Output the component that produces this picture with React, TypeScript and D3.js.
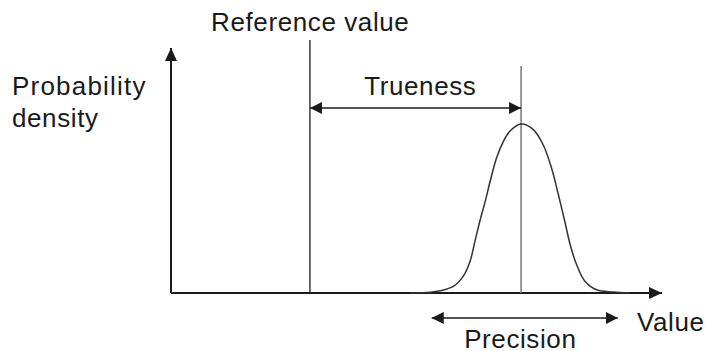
import React from "react";
import * as d3 from "d3";

// value axis runs 0..10, density axis 0..1
const curveValues = [4.87, 5.28, 5.48, 5.75, 5.95, 6.09, 6.19, 6.29, 6.4, 6.5, 6.63, 6.77, 6.9, 7.13, 7.38, 7.58, 7.75, 7.89, 8.02, 8.13, 8.26, 8.43, 8.67, 9.01, 9.35];
const curveDensity = [0, 0.003, 0.009, 0.027, 0.068, 0.129, 0.211, 0.293, 0.374, 0.456, 0.551, 0.619, 0.66, 0.69, 0.667, 0.605, 0.51, 0.401, 0.293, 0.197, 0.116, 0.048, 0.013, 0.004, 0];

const referenceValue = 2.83;
const meanValue = 7.13;
const precisionRange = [5.31, 9.1];
const truenessLevel = 0.755;
const precisionLevel = -0.102;
const referenceTop = 1.033;
const meanTop = 0.927;

const W = 707;
const H = 351;
const FONT = "'Liberation Sans', Arial, sans-serif";
const INK = "#1a1a1a";

export default function App() {
  const x = d3.scaleLinear().domain([0, 10]).range([171, 662]);
  const y = d3.scaleLinear().domain([0, 1]).range([293, 48]);

  const pts: [number, number][] = curveValues.map((v, i) => [v, curveDensity[i]]);
  const line = d3
    .line<[number, number]>()
    .x((d) => x(d[0]))
    .y((d) => y(d[1]))
    .curve(d3.curveCatmullRom.alpha(0.5));

  return (
    <svg width={W} height={H} style={{ position: "absolute", left: 0, top: 0, background: "#fff" }}>
      <defs>
        <marker id="head" viewBox="0 0 12 12" refX="12" refY="6" markerWidth="12" markerHeight="12"
          markerUnits="userSpaceOnUse" orient="auto-start-reverse">
          <path d="M0,0 L12,6 L0,12 Z" fill={INK} />
        </marker>
        <marker id="axisHead" viewBox="0 0 13 12" refX="13" refY="6" markerWidth="13" markerHeight="12"
          markerUnits="userSpaceOnUse" orient="auto">
          <path d="M0,0 L13,6 L0,12 Z" fill={INK} />
        </marker>
      </defs>

      {/* axes */}
      <line x1={x(0)} y1={y(0)} x2={x(0)} y2={y(1)} stroke={INK} strokeWidth={2} markerEnd="url(#axisHead)" />
      <line x1={x(0)} y1={y(0)} x2={x(10)} y2={y(0)} stroke={INK} strokeWidth={2} markerEnd="url(#axisHead)" />

      {/* reference value line */}
      <line x1={x(referenceValue)} y1={y(0)} x2={x(referenceValue)} y2={y(referenceTop)} stroke={INK} strokeWidth={1.3} />
      {/* mean line */}
      <line x1={x(meanValue)} y1={y(0)} x2={x(meanValue)} y2={y(meanTop)} stroke="#808080" strokeWidth={1.6} />

      {/* density curve */}
      <path d={line(pts) || ""} fill="none" stroke="#333" strokeWidth={1.5} />

      {/* trueness arrow */}
      <line x1={x(referenceValue)} y1={y(truenessLevel)} x2={x(meanValue)} y2={y(truenessLevel)}
        stroke={INK} strokeWidth={1.5} markerStart="url(#head)" markerEnd="url(#head)" />
      {/* precision arrow */}
      <line x1={x(precisionRange[0])} y1={y(precisionLevel)} x2={x(precisionRange[1])} y2={y(precisionLevel)}
        stroke={INK} strokeWidth={1.5} markerStart="url(#head)" markerEnd="url(#head)" />

      <g fontFamily={FONT} fontSize={26} fill={INK} letterSpacing={0.6}>
        <text x={x(referenceValue) + 0.3} y={31} textAnchor="middle">Reference value</text>
        <text x={420.3} y={95} textAnchor="middle">Trueness</text>
        <text x={520.3} y={348} textAnchor="middle">Precision</text>
        <text x={637} y={331}>Value</text>
        <text x={12} y={95} letterSpacing={1.2}>Probability</text>
        <text x={12} y={127}>density</text>
      </g>
    </svg>
  );
}
